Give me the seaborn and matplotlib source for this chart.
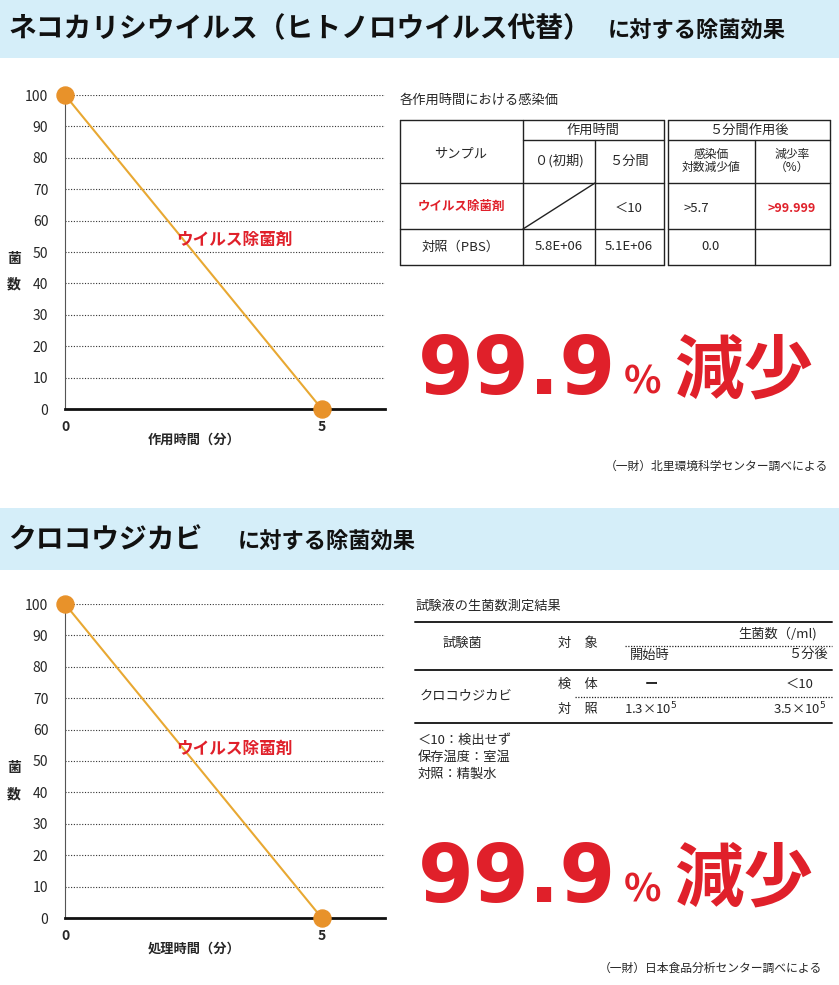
import matplotlib
matplotlib.use("Agg")
import matplotlib.pyplot as plt
import seaborn as sns
import pandas as pd
from matplotlib.lines import Line2D
from matplotlib.patches import Rectangle

sns.set_theme(style="white")
plt.rcParams['font.family'] = ['Noto Sans CJK JP', 'DejaVu Sans']

W, H = 839, 985
times = [0, 5]
top_counts = [100, 0]
bot_counts = [100, 0]
yticks = [0, 10, 20, 30, 40, 50, 60, 70, 80, 90, 100]
series_label = "ウイルス除菌剤"

fig = plt.figure(figsize=(W/100, H/100), dpi=100)
fig.patch.set_facecolor("white")

def fx(x): return x / W
def fy(y): return 1 - y / H
def txt(x, y, s, **kw):
    fig.text(fx(x), fy(y), s, **kw)
def line(x0, y0, x1, y1, **kw):
    kw.setdefault("color", "#222222"); kw.setdefault("lw", 1.0)
    fig.add_artist(Line2D([fx(x0), fx(x1)], [fy(y0), fy(y1)], transform=fig.transFigure, **kw))

# Banners
for y0, y1 in [(0, 58), (508, 570)]:
    fig.add_artist(Rectangle((0, fy(y1)), 1, (y1 - y0) / H, transform=fig.transFigure,
                             facecolor="#d5eef9", edgecolor="none", zorder=0))
txt(8, 29, "ネコカリシウイルス（ヒトノロウイルス代替）", fontsize=20, fontweight="bold", va="center", color="#111111")
txt(608, 31, "に対する除菌効果", fontsize=16, fontweight="bold", va="center", color="#111111")
txt(8, 540, "クロコウジカビ", fontsize=20, fontweight="bold", va="center", color="#111111")
txt(238, 542, "に対する除菌効果", fontsize=16, fontweight="bold", va="center", color="#111111")

def chart(top, counts, xlabel):
    ax = fig.add_axes([fx(65), fy(top + 314), 320 / W, 314 / H])
    df = pd.DataFrame({"t": times, "n": counts})
    sns.lineplot(data=df, x="t", y="n", ax=ax, color="#e8a832", lw=1.5)
    ax.scatter(times, counts, s=150, color="#e8922a", zorder=5, clip_on=False)
    ax.set_xlim(0, 6.23); ax.set_ylim(0, 100)
    ax.set_yticks(yticks)
    ax.set_yticklabels([str(v) for v in yticks], fontsize=10)
    ax.set_xticks(times)
    ax.set_xticklabels(["0", "5"], fontsize=10, fontweight="bold")
    ax.tick_params(axis="x", pad=8, length=0)
    ax.tick_params(axis="y", length=0, pad=12)
    for v in yticks[1:]:
        ax.axhline(v, color="#333333", lw=0.8, ls=(0, (1, 1.5)), zorder=0)
    for s in ["top", "right"]:
        ax.spines[s].set_visible(False)
    ax.spines["left"].set_color("#555555"); ax.spines["left"].set_linewidth(0.8)
    ax.spines["bottom"].set_color("#111111"); ax.spines["bottom"].set_linewidth(2)
    ax.set_xlabel(""); ax.set_ylabel("")
    ax.text(3.3, 54, series_label, color="#e0202a", fontsize=12, fontweight="bold",
            ha="center", va="center")
    txt(148, top + 345, xlabel, fontsize=9.5, fontweight="bold", va="center")
    txt(7, top + 164, "菌", fontsize=10, fontweight="bold", va="center")
    txt(7, top + 190, "数", fontsize=10, fontweight="bold", va="center")

chart(95, top_counts, "作用時間（分）")
chart(604, bot_counts, "処理時間（分）")

RED = "#e0202a"
def big(y):
    txt(418, y, "99.9", fontsize=58, fontweight="bold", color=RED, va="center",
        family="DejaVu Sans")
    txt(624, y + 10, "%", fontsize=28, fontweight="bold", color=RED, va="center")
    txt(674, y, "減少", fontsize=50, fontweight="bold", color=RED, va="center")
big(372)
big(880)

# Top table
txt(400, 100, "各作用時間における感染価", fontsize=9.5, va="center")
for x0, x1 in [(400, 664), (668, 830)]:
    line(x0, 120, x1, 120); line(x0, 265, x1, 265)
    line(x0, 120, x0, 265); line(x1, 120, x1, 265)
line(523, 140, 664, 140); line(668, 140, 830, 140)
line(400, 183, 664, 183); line(668, 183, 830, 183)
line(400, 229, 664, 229); line(668, 229, 830, 229)
line(523, 120, 523, 265); line(595, 140, 595, 265); line(755, 140, 755, 265)
line(523, 229, 595, 183)
fs = 9.5
txt(593, 130, "作用時間", fontsize=fs, ha="center", va="center")
txt(749, 130, "５分間作用後", fontsize=fs, ha="center", va="center")
txt(461, 154, "サンプル", fontsize=fs, ha="center", va="center")
txt(559, 161, "０(初期)", fontsize=fs, ha="center", va="center")
txt(629, 161, "５分間", fontsize=fs, ha="center", va="center")
txt(711, 161, "感染価\n対数減少値", fontsize=8.5, ha="center", va="center", linespacing=0.95)
txt(792, 161, "減少率\n（%）", fontsize=8.5, ha="center", va="center", linespacing=0.95)
txt(461, 206, "ウイルス除菌剤", fontsize=9, fontweight="bold", color=RED, ha="center", va="center")
txt(629, 208, "＜10", fontsize=fs, ha="center", va="center")
txt(683, 209, ">5.7", fontsize=fs, va="center")
txt(792, 209, ">99.999", fontsize=9, fontweight="bold", color=RED, ha="center", va="center")
txt(461, 247, "対照（PBS）", fontsize=fs, ha="center", va="center")
txt(559, 247, "5.8E+06", fontsize=fs, ha="center", va="center")
txt(629, 247, "5.1E+06", fontsize=fs, ha="center", va="center")
txt(711, 247, "0.0", fontsize=fs, ha="center", va="center")
txt(828, 466, "（一財）北里環境科学センター調べによる", fontsize=8.5, ha="right", va="center")

# Bottom table
txt(415, 606, "試験液の生菌数測定結果", fontsize=9.5, va="center")
for y in [622, 670, 723]:
    line(415, y, 832, y, lw=1.4)
line(625, 646, 832, 646, lw=0.9, ls=(0, (1, 1.2)))
line(575, 697, 832, 697, lw=0.9, ls=(0, (1, 1.2)))
txt(462, 643, "試験菌", fontsize=fs, ha="center", va="center")
txt(578, 643, "対　象", fontsize=fs, ha="center", va="center")
txt(778, 634, "生菌数（/ml)", fontsize=fs, ha="center", va="center")
txt(650, 655, "開始時", fontsize=fs, ha="center", va="center")
txt(808, 655, "５分後", fontsize=fs, ha="center", va="center")
txt(466, 696, "クロコウジカビ", fontsize=fs, ha="center", va="center")
txt(578, 684, "検　体", fontsize=fs, ha="center", va="center")
txt(578, 709, "対　照", fontsize=fs, ha="center", va="center")
txt(651, 684, "ー", fontsize=fs, fontweight="bold", ha="center", va="center")
txt(800, 684, "＜10", fontsize=fs, ha="center", va="center")
txt(651, 709, r"1.3×10$^5$", fontsize=fs, ha="center", va="center")
txt(800, 709, r"3.5×10$^5$", fontsize=fs, ha="center", va="center")
txt(418, 740, "＜10：検出せず", fontsize=fs, va="center")
txt(418, 757, "保存温度：室温", fontsize=fs, va="center")
txt(418, 774, "対照：精製水", fontsize=fs, va="center")
txt(822, 968, "（一財）日本食品分析センター調べによる", fontsize=8.5, ha="right", va="center")

fig.savefig("out.png", dpi=100, facecolor="white")
